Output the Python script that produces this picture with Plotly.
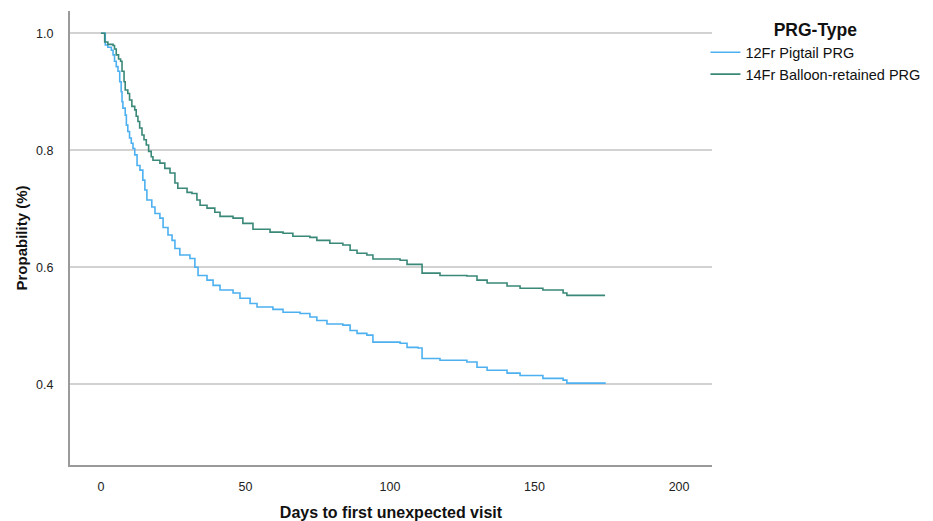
import plotly.graph_objects as go

# Kaplan-Meier step data (day, survival probability)
pigtail_days = [0, 1.5, 2.4, 3.6, 4.2, 4.7, 5.3, 5.9, 6.5, 7.0, 7.3, 7.6, 8.4, 8.8, 9.3, 9.9, 10.5, 11.1,
                11.7, 12.5, 13.5, 14.5, 15.2, 15.9, 17.6, 18.7, 20.4, 21.5, 23.2, 24.6, 25.6, 27.3, 30.8,
                32.5, 33.6, 36.7, 38.8, 41.2, 45.7, 48.1, 51.6, 54.0, 59.5, 63.0, 68.9, 72.3, 74.7, 78.2,
                83.7, 86.2, 88.6, 92.0, 94.1, 103.5, 105.9, 109.7, 111.1, 117.3, 126.6, 130.1, 133.6,
                140.5, 145.0, 152.9, 159.9, 161.2, 174.4]
pigtail_surv = [1.0, 0.980, 0.976, 0.971, 0.963, 0.952, 0.943, 0.935, 0.917, 0.900, 0.883, 0.872, 0.860,
                0.843, 0.832, 0.821, 0.812, 0.803, 0.792, 0.774, 0.766, 0.749, 0.732, 0.715, 0.703, 0.692,
                0.684, 0.668, 0.655, 0.646, 0.632, 0.621, 0.615, 0.600, 0.586, 0.578, 0.569, 0.561, 0.556,
                0.547, 0.538, 0.532, 0.528, 0.523, 0.521, 0.515, 0.509, 0.503, 0.501, 0.492, 0.487, 0.484,
                0.472, 0.470, 0.463, 0.462, 0.444, 0.441, 0.438, 0.429, 0.424, 0.419, 0.415, 0.410, 0.407,
                0.402, 0.401]

balloon_days = [0, 1.3, 2.4, 4.2, 4.7, 5.3, 6.1, 6.8, 7.3, 8.0, 8.4, 9.3, 9.9, 10.7, 11.7, 12.2, 12.8,
                13.4, 14.2, 14.9, 15.7, 16.5, 17.4, 18.0, 20.4, 22.1, 23.9, 25.6, 26.6, 29.8, 31.5, 33.2,
                34.3, 36.7, 39.4, 41.2, 45.7, 49.1, 52.6, 58.5, 63.0, 66.4, 72.3, 74.7, 79.2, 83.7, 86.2,
                88.6, 92.0, 94.1, 103.5, 105.9, 111.1, 117.3, 126.6, 130.1, 133.6, 140.5, 145.0, 152.9,
                159.9, 161.2, 174.4]
balloon_surv = [1.0, 0.985, 0.981, 0.979, 0.973, 0.963, 0.956, 0.952, 0.935, 0.917, 0.903, 0.897, 0.886,
                0.875, 0.869, 0.858, 0.849, 0.838, 0.826, 0.818, 0.809, 0.798, 0.789, 0.783, 0.778, 0.769,
                0.761, 0.744, 0.735, 0.728, 0.726, 0.715, 0.706, 0.701, 0.694, 0.687, 0.684, 0.675, 0.665,
                0.660, 0.658, 0.653, 0.651, 0.646, 0.641, 0.638, 0.629, 0.624, 0.621, 0.614, 0.612, 0.605,
                0.590, 0.586, 0.585, 0.578, 0.573, 0.568, 0.564, 0.561, 0.556, 0.552, 0.552]

series_names = ["12Fr Pigtail PRG", "14Fr Balloon-retained PRG"]
series_colors = ["#4DB0F0", "#3A8878"]

x_ticks = [0, 50, 100, 150, 200]
y_ticks = [0.4, 0.6, 0.8, 1.0]
y_tick_labels = ["0.4", "0.6", "0.8", "1.0"]

FONT = "Arial, 'Liberation Sans', sans-serif"

fig = go.Figure()
for days, surv, name, color in zip([pigtail_days, balloon_days], [pigtail_surv, balloon_surv],
                                   series_names, series_colors):
    fig.add_trace(go.Scatter(x=days, y=surv, mode="lines", name=name,
                             line=dict(color=color, width=1.6, shape="hv")))

# the page body has an 8px margin, so the figure is sized to the visible area
fig.update_layout(
    width=925, height=513,
    margin=dict(l=62, r=221, t=3, b=56, autoexpand=False),
    paper_bgcolor="white", plot_bgcolor="white",
    font=dict(family=FONT, color="#222"),
    showlegend=True,
    legend=dict(
        title=dict(text="<b>PRG-Type</b>", side="top center", font=dict(size=17.5, color="#111")),
        xref="container", yref="container",
        x=0.754, y=0.989, xanchor="left", yanchor="top",
        font=dict(size=14.5, color="#111"),
        itemwidth=30, tracegroupgap=0, bgcolor="rgba(0,0,0,0)",
    ),
    xaxis=dict(
        range=[-10.7, 211.4], tickvals=x_ticks, showgrid=False, zeroline=False,
        showline=True, linecolor="#9a9a9a", linewidth=2, ticks="",
        ticklabelstandoff=9, automargin=False,
        tickfont=dict(size=12.5, color="#222"),
        title=dict(text="<b>Days to first unexpected visit</b>", font=dict(size=16, color="#111"),
                   standoff=19),
    ),
    yaxis=dict(
        range=[0.262, 1.038], tickvals=y_ticks, ticktext=y_tick_labels,
        showgrid=True, gridcolor="#d2d2d2", gridwidth=2, zeroline=False,
        showline=True, linecolor="#9a9a9a", linewidth=2, ticks="",
        ticklabelstandoff=12, automargin=False,
        tickfont=dict(size=12.5, color="#222"),
        title=dict(text="<b>Propability (%)</b>", font=dict(size=15, color="#111"), standoff=5),
    ),
)

fig.write_html("out.html")
